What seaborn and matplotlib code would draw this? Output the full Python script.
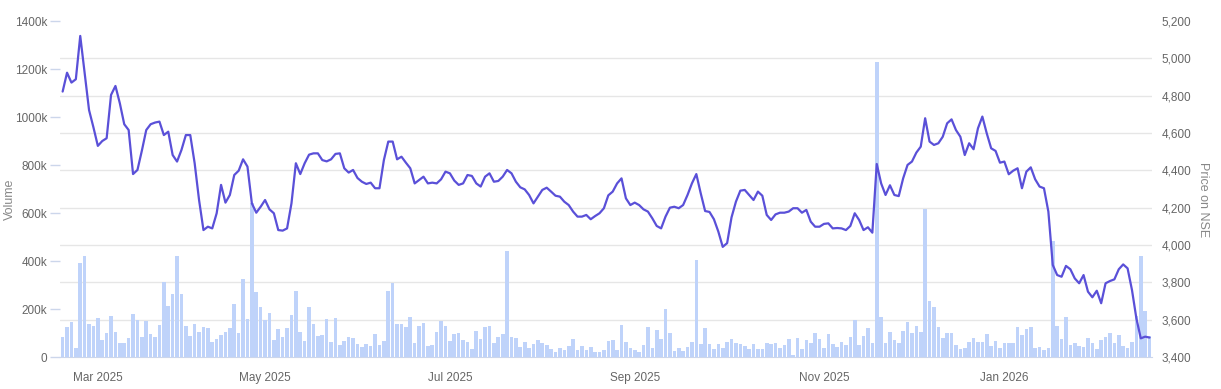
import numpy as np
import pandas as pd
import matplotlib
matplotlib.use("Agg")
import matplotlib.pyplot as plt
import seaborn as sns

# daily traded volume (thousands) and closing price on NSE
volume_k = [
    82, 124, 147, 39, 390, 421, 137, 129, 161, 71,
    99, 171, 103, 57, 57, 78, 179, 154, 82, 150,
    94, 85, 132, 311, 212, 261, 419, 261, 129, 88,
    137, 103, 124, 121, 62, 74, 92, 106, 119, 221,
    99, 324, 158, 643, 272, 207, 154, 182, 71, 115,
    82, 121, 174, 276, 103, 67, 207, 136, 88, 92,
    157, 64, 161, 50, 67, 82, 78, 54, 43, 54,
    46, 96, 50, 68, 275, 307, 136, 137, 124, 168,
    60, 130, 140, 46, 49, 105, 148, 130, 67, 95,
    98, 70, 63, 35, 109, 74, 126, 130, 57, 85,
    94, 440, 84, 78, 43, 63, 39, 53, 70, 60,
    49, 35, 22, 39, 31, 46, 74, 29, 46, 29,
    41, 22, 22, 29, 66, 70, 28, 133, 64, 39,
    28, 22, 49, 127, 39, 113, 74, 200, 98, 25,
    38, 24, 43, 64, 405, 56, 120, 53, 32, 53,
    36, 64, 77, 60, 56, 46, 32, 53, 32, 32,
    57, 53, 60, 36, 50, 74, 7, 81, 35, 70,
    60, 102, 74, 36, 95, 53, 43, 63, 49, 84,
    154, 49, 88, 119, 60, 1229, 168, 57, 105, 71,
    60, 109, 144, 98, 130, 105, 617, 232, 207, 126,
    81, 99, 99, 49, 32, 39, 64, 81, 63, 63,
    95, 46, 67, 39, 60, 60, 57, 123, 91, 116,
    123, 36, 43, 29, 36, 485, 130, 77, 168, 50,
    57, 46, 43, 78, 60, 32, 70, 84, 98, 57,
    91, 46, 39, 64, 169, 421, 193, 88,
]

price = [
    4822, 4923, 4870, 4888, 5120, 4920, 4723, 4630, 4531, 4557,
    4572, 4804, 4852, 4759, 4647, 4616, 4380, 4402, 4505, 4616,
    4647, 4656, 4661, 4589, 4607, 4482, 4447, 4509, 4589, 4589,
    4438, 4241, 4080, 4098, 4089, 4170, 4322, 4227, 4268, 4375,
    4398, 4459, 4420, 4223, 4173, 4205, 4241, 4191, 4170, 4080,
    4077, 4089, 4223, 4438, 4380, 4438, 4484, 4491, 4491, 4455,
    4448, 4459, 4488, 4491, 4411, 4388, 4402, 4359, 4339, 4327,
    4334, 4304, 4304, 4455, 4554, 4554, 4459, 4473, 4441, 4411,
    4330, 4348, 4366, 4330, 4334, 4330, 4352, 4393, 4384, 4345,
    4322, 4330, 4375, 4370, 4330, 4313, 4366, 4384, 4339, 4343,
    4366, 4402, 4384, 4339, 4309, 4298, 4268, 4223, 4259, 4295,
    4307, 4286, 4264, 4259, 4232, 4214, 4179, 4152, 4152, 4161,
    4138, 4155, 4170, 4197, 4266, 4286, 4330, 4357, 4250, 4214,
    4227, 4214, 4191, 4179, 4143, 4102, 4089, 4152, 4200, 4205,
    4197, 4214, 4268, 4330, 4380, 4277, 4182, 4177, 4138, 4072,
    3990, 4010, 4148, 4232, 4291, 4295, 4268, 4241, 4286, 4264,
    4161, 4134, 4164, 4173, 4173, 4179, 4197, 4197, 4173, 4188,
    4125, 4098, 4098, 4113, 4116, 4089, 4091, 4089, 4080, 4102,
    4170, 4134, 4080, 4095, 4066, 4434, 4330, 4268, 4320, 4268,
    4262, 4357, 4429, 4447, 4495, 4527, 4679, 4554, 4536, 4545,
    4580, 4652, 4673, 4616, 4580, 4482, 4545, 4513, 4625, 4688,
    4598, 4518, 4504, 4441, 4447, 4379, 4398, 4411, 4304, 4393,
    4416, 4352, 4313, 4304, 4179, 3893, 3839, 3830, 3888, 3870,
    3821, 3795, 3839, 3750, 3720, 3755, 3688, 3795, 3807, 3816,
    3870, 3896, 3875, 3759, 3607, 3500, 3509, 3504,
]

# exchange holidays inside the range
holidays = ["2025-02-26", "2025-03-14", "2025-03-31", "2025-04-10", "2025-04-14",
            "2025-04-18", "2025-05-01", "2025-08-15", "2025-08-27", "2025-10-02",
            "2025-10-22", "2025-11-05", "2025-12-25", "2026-01-15", "2026-01-26"]
tick_months = ["2025-03", "2025-05", "2025-07", "2025-09", "2025-11", "2026-01"]

dates = pd.bdate_range("2025-02-18", periods=len(volume_k), freq="C", holidays=holidays)
df = pd.DataFrame({"day": np.arange(len(volume_k)),
                   "date": dates,
                   "volume": np.array(volume_k) * 1000,
                   "price": price})

sns.set_style("white")
plt.rcParams["font.family"] = ["Liberation Sans", "DejaVu Sans"]

txt = "#666666"
axis_col = "#ccd6eb"
grid_col = "#e6e6e6"

fig = plt.figure(figsize=(12.21, 3.89), dpi=100)
ax = fig.add_axes([60 / 1221, 1 - 357 / 389, (1152 - 60) / 1221, (357 - 21) / 389])

sns.barplot(data=df, x="day", y="volume", color="#bfd3fa", saturation=1,
            width=0.82, errorbar=None, linewidth=0, ax=ax, zorder=2)

ax2 = ax.twinx()
sns.lineplot(data=df, x="day", y="price", ax=ax2, color="#5a50d8", lw=1.6,
             solid_joinstyle="round", zorder=3)

ax.set_xlim(-0.6, len(volume_k) - 0.45)
ax.set_ylim(0, 1400000)
ax2.set_ylim(3400, 5200)

vol_ticks = np.arange(0, 1400001, 200000)
ax.set_yticks(vol_ticks)
ax.set_yticklabels(["0" if v == 0 else f"{v // 1000:d}k" for v in vol_ticks])

price_ticks = np.arange(3400, 5201, 200)
ax2.set_yticks(price_ticks)
ax2.set_yticklabels([f"{p:,d}" for p in price_ticks])

# horizontal grid follows the price axis but sits behind the bars
ax.set_yticks((price_ticks - 3400) / 1800 * 1400000, minor=True)
ax.grid(which="minor", axis="y", color=grid_col, lw=1)
ax.grid(which="major", visible=False)
ax.set_axisbelow(True)
ax2.grid(False)

pos = [int(np.argmax(dates.strftime("%Y-%m") == m)) for m in tick_months]
ax.set_xticks(pos)
ax.set_xticklabels([dates[p].strftime("%b %Y") for p in pos])

ax.tick_params(axis="x", colors=axis_col, labelcolor=txt, length=6, width=1,
               labelsize=8.5, pad=5)
ax.tick_params(axis="y", which="major", colors=axis_col, labelcolor=txt, length=7,
               width=1, labelsize=8.5, pad=2)
ax.tick_params(axis="y", which="minor", length=0)
ax2.tick_params(axis="y", length=0, labelcolor=txt, labelsize=8.5, pad=7)

for a in (ax, ax2):
    for s in ("top", "left", "right"):
        a.spines[s].set_visible(False)
ax.spines["bottom"].set_color(axis_col)
ax2.spines["bottom"].set_visible(False)

ax.set_xlabel("")
ax.set_ylabel("Volume", color="#888888", fontsize=9, va="center")
ax.yaxis.set_label_coords(-0.046, 0.47)
ax2.set_ylabel("Price on NSE", color="#888888", fontsize=9, rotation=270, va="center")
ax2.yaxis.set_label_coords(1.047, 0.47)

fig.savefig("out.png", dpi=100)
